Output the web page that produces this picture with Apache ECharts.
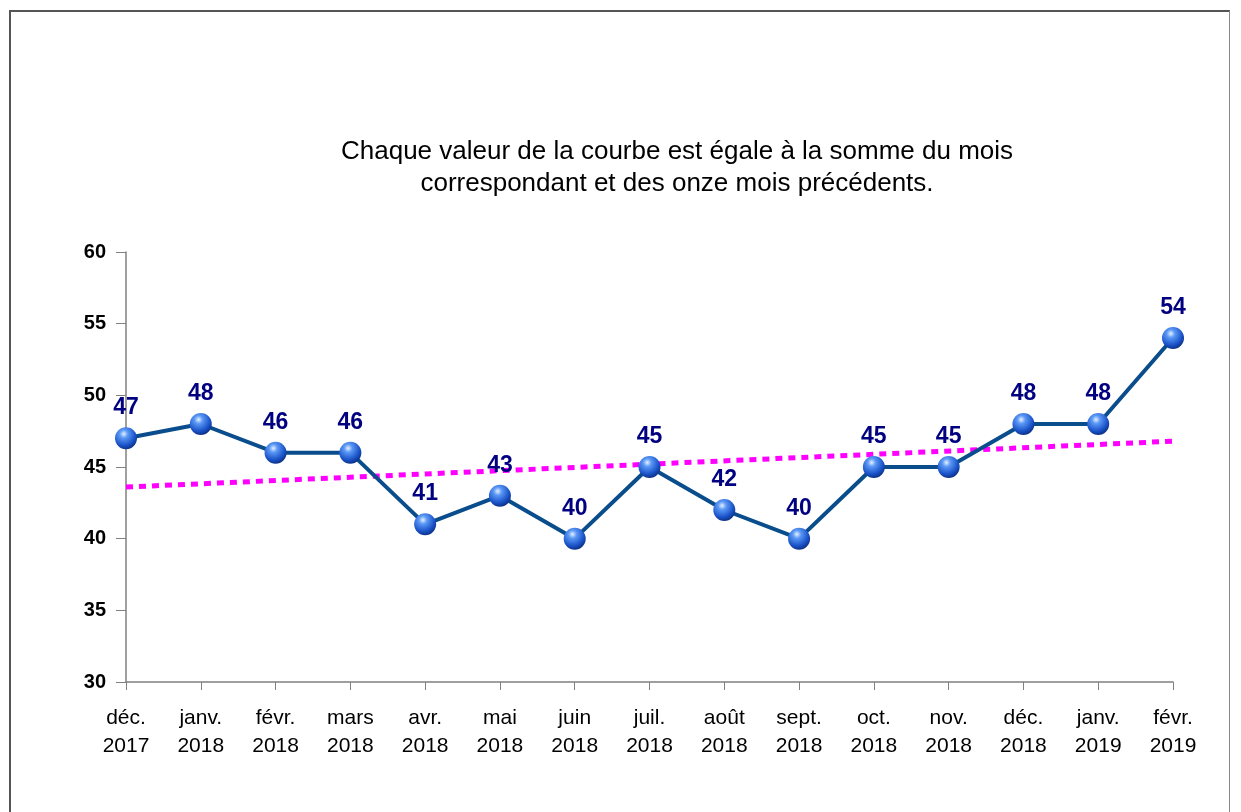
<!DOCTYPE html>
<html>
<head>
<meta charset="utf-8">
<script src="https://cdn.jsdelivr.net/npm/echarts@6/dist/echarts.min.js"></script>
<style>
html,body{margin:0;padding:0;background:#fff;}
#frame{position:absolute;left:9px;top:10px;width:1221px;height:820px;border-left:2px solid #555;border-top:2px solid #555;border-right:1px solid #888;box-sizing:border-box;}
#chart{position:absolute;left:0;top:0;width:1241px;height:812px;}
</style>
</head>
<body>
<div id="frame"></div>
<div id="chart"></div>
<script>
const categories = ["déc.\n2017","janv.\n2018","févr.\n2018","mars\n2018","avr.\n2018","mai\n2018","juin\n2018","juil.\n2018","août\n2018","sept.\n2018","oct.\n2018","nov.\n2018","déc.\n2018","janv.\n2019","févr.\n2019"];
const values = [47,48,46,46,41,43,40,45,42,40,45,45,48,48,54];
const trendStart = 43.6;
const trendEnd = 46.8;
const titleLines = ["Chaque valeur de la courbe est égale à la somme du mois","correspondant et des onze mois précédents."];

const chart = echarts.init(document.getElementById('chart'));
chart.setOption({
  backgroundColor: 'transparent',
  animation: false,
  title: {
    text: titleLines.join('\n'),
    left: 672, top: 131, textAlign: 'center',
    textStyle: {fontFamily: 'Liberation Sans', fontSize: 26, fontWeight: 'normal', color: '#000', lineHeight: 32}
  },
  grid: {left: 126, right: 68, top: 252, bottom: 130},
  xAxis: {
    type: 'category', data: categories, boundaryGap: false,
    axisLine: {lineStyle: {color: '#808080', width: 1.5}},
    axisTick: {show: true, inside: false, length: 8, alignWithLabel: true, lineStyle: {color: '#808080'}},
    axisLabel: {fontFamily: 'Liberation Sans', fontSize: 21, color: '#000', lineHeight: 28, margin: 22, interval: 0}
  },
  yAxis: {
    type: 'value', min: 30, max: 60, interval: 5,
    splitLine: {show: false},
    axisLine: {show: true, lineStyle: {color: '#808080', width: 1.5}},
    axisTick: {show: true, length: 10, lineStyle: {color: '#808080'}},
    axisLabel: {fontFamily: 'Liberation Sans', fontSize: 20, fontWeight: 'bold', color: '#000', margin: 20}
  },
  series: [
    {
      type: 'line',
      data: [[categories[0], trendStart], [categories[categories.length-1], trendEnd]],
      symbol: 'none',
      lineStyle: {color: '#ff00ff', width: 5, type: [7, 6]},
      z: 1, silent: true
    },
    {
      type: 'line', data: values,
      symbol: 'circle', symbolSize: 22,
      lineStyle: {color: '#0a4d8c', width: 4},
      itemStyle: {
        color: new echarts.graphic.RadialGradient(0.4, 0.3, 0.75, [
          {offset: 0, color: '#e6f0ff'},
          {offset: 0.25, color: '#5a98f5'},
          {offset: 0.7, color: '#1a52c8'},
          {offset: 1, color: '#0a2a78'}
        ]),
        borderWidth: 0
      },
      label: {show: true, position: 'top', distance: 8, fontFamily: 'Liberation Sans', fontSize: 23, fontWeight: 'bold', color: '#000080'},
      z: 3
    }
  ]
});
</script>
</body>
</html>
